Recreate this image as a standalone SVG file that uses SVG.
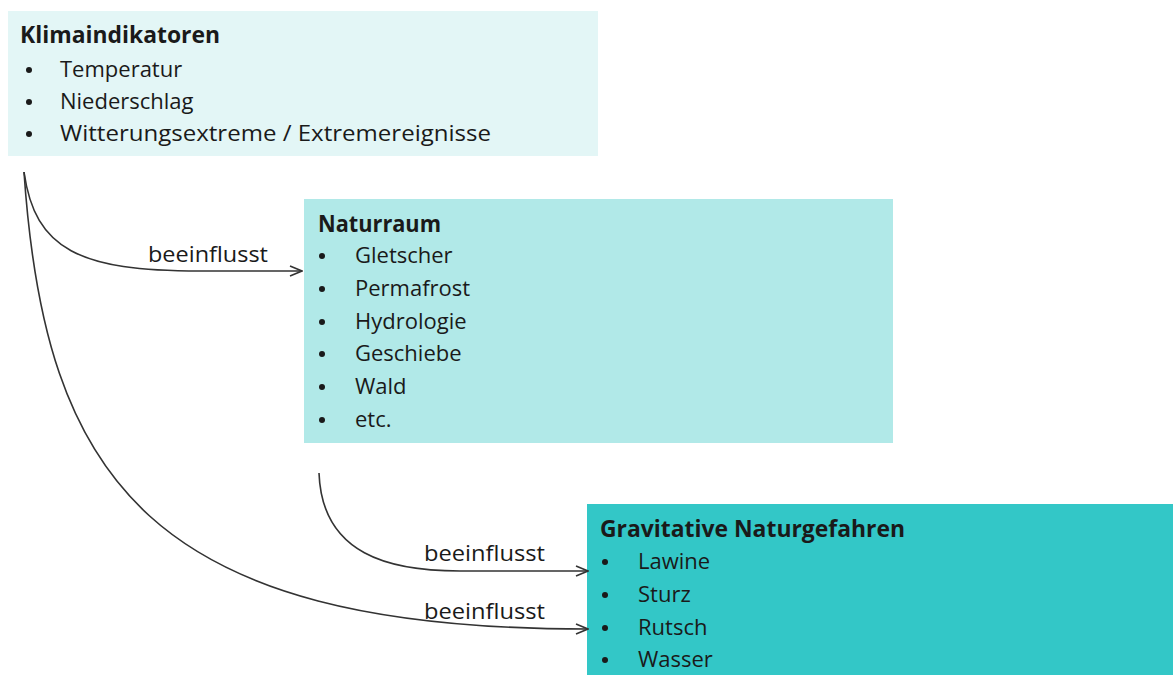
<svg xmlns="http://www.w3.org/2000/svg" width="1173" height="675" viewBox="0 0 1173 675">
<defs>
<marker id="arr" viewBox="0 0 14 12" refX="13" refY="6" markerWidth="14" markerHeight="12" markerUnits="userSpaceOnUse" orient="auto">
<path d="M1,1 L13,6 L1,11" fill="none" stroke="#333" stroke-width="1.6"/>
</marker>
<style>
text{font-family:"Open Sans","Liberation Sans",sans-serif;font-size:22px;fill:#1a1a1a}
.t{font-weight:bold;font-size:24px}
.b{fill:#1a1a1a}
.c{fill:none;stroke:#333;stroke-width:1.6;marker-end:url(#arr)}
</style>
</defs>
<rect width="1173" height="675" fill="#fff"/>
<g id="klima">
<rect x="8" y="11" width="590" height="145" fill="#e3f6f6"/>
<text class="t" x="20" y="43" textLength="200" lengthAdjust="spacingAndGlyphs">Klimaindikatoren</text>
<circle class="b" cx="29" cy="70" r="3"/><text x="60" y="77">Temperatur</text>
<circle class="b" cx="29" cy="102" r="3"/><text x="60" y="109">Niederschlag</text>
<circle class="b" cx="29" cy="134" r="3"/><text x="60" y="141" textLength="431" lengthAdjust="spacingAndGlyphs">Witterungsextreme / Extremereignisse</text>
</g>
<g id="naturraum">
<rect x="304" y="199" width="589" height="244" fill="#b1e9e8"/>
<text class="t" x="318" y="232" textLength="123" lengthAdjust="spacingAndGlyphs">Naturraum</text>
<circle class="b" cx="322" cy="256" r="3"/><text x="355" y="263">Gletscher</text>
<circle class="b" cx="322" cy="289" r="3"/><text x="355" y="296">Permafrost</text>
<circle class="b" cx="322" cy="322" r="3"/><text x="355" y="329">Hydrologie</text>
<circle class="b" cx="322" cy="354" r="3"/><text x="355" y="361">Geschiebe</text>
<circle class="b" cx="322" cy="387" r="3"/><text x="355" y="394">Wald</text>
<circle class="b" cx="322" cy="420" r="3"/><text x="355" y="427">etc.</text>
</g>
<g id="gefahren">
<rect x="587" y="504" width="586" height="171" fill="#33c7c7"/>
<text class="t" x="600" y="537" textLength="305" lengthAdjust="spacingAndGlyphs">Gravitative Naturgefahren</text>
<circle class="b" cx="605" cy="562" r="3"/><text x="638" y="569">Lawine</text>
<circle class="b" cx="605" cy="595" r="3"/><text x="638" y="602">Sturz</text>
<circle class="b" cx="605" cy="628" r="3"/><text x="638" y="635">Rutsch</text>
<circle class="b" cx="605" cy="660" r="3"/><text x="638" y="667">Wasser</text>
</g>
<g id="connectors">
<path class="c" d="M24,172 C35,250 80,271 200,271 L302,271"/>
<path class="c" d="M24,172 C45,480 150,629 588,629"/>
<path class="c" d="M319,473 C322,555 390,571 460,571 L588,571"/>
<text x="148" y="262" textLength="120" lengthAdjust="spacingAndGlyphs">beeinflusst</text>
<text x="424" y="561" textLength="121" lengthAdjust="spacingAndGlyphs">beeinflusst</text>
<text x="424" y="619" textLength="121" lengthAdjust="spacingAndGlyphs">beeinflusst</text>
</g>
</svg>
